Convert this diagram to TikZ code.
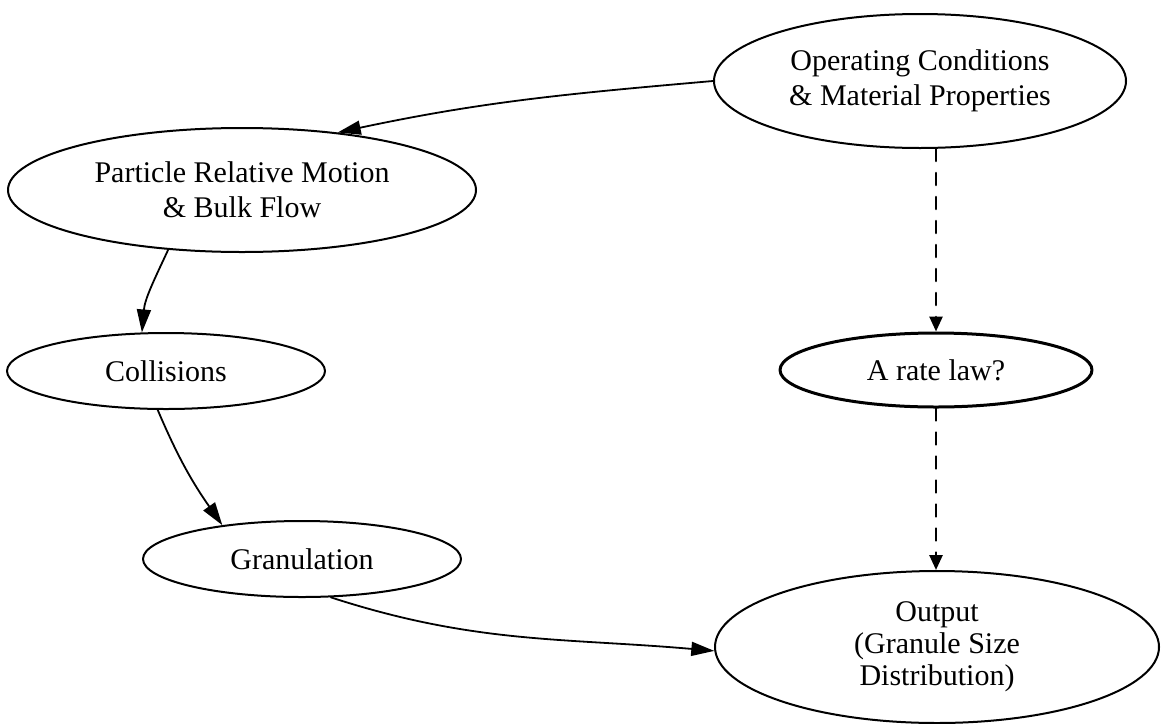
\documentclass[tikz,border=0pt]{standalone}
\usepackage{fontspec}
\setmainfont{Liberation Serif}
\usetikzlibrary{shapes.geometric,arrows.meta}
\begin{document}
\begin{tikzpicture}[x=0.5pt,y=0.5pt,font=\fontsize{15}{17.5}\selectfont,line join=round,line cap=round,>={Triangle[length=11.5pt,width=7pt]},
    blob/.style={draw,ellipse,align=center,inner sep=0pt,line width=1pt},
    flow/.style={->,line width=0.9pt},
    guess/.style={-{Triangle[length=7.5pt,width=6.5pt]},line width=1.3pt,dash pattern=on 6pt off 6pt}]
    \useasboundingbox (0,0) rectangle (1161,-723);
    \node[blob,minimum width=206pt,minimum height=67pt] (op) at (920,-81) {Operating Conditions\\\& Material Properties};
    \node[blob,minimum width=234pt,minimum height=62pt] (pm) at (242,-190) {Particle Relative Motion\\\& Bulk Flow};
    \node[blob,minimum width=159pt,minimum height=38pt] (col) at (166,-371) {Collisions};
    \node[blob,minimum width=156pt,minimum height=37pt,line width=1.5pt] (rate) at (936,-370) {A rate law?};
    \node[blob,minimum width=159pt,minimum height=38pt] (gran) at (302,-559) {Granulation};
    \node[blob,minimum width=222pt,minimum height=76pt,font=\fontsize{15}{16}\selectfont] (out) at (937,-647) {Output\\(Granule Size\\Distribution)};
    \draw[flow] (op.west) to[out=185,in=12] (pm.31);
    \draw[flow] (pm.219) to[out=245,in=85] (col.122);
    \draw[flow] (col.258) to[out=293,in=125] (gran.157);
    \draw[flow] (gran.307) to[out=342,in=175] (out.181);
    \draw[guess] (op.south -| rate.north) -- (rate.north);
    \draw[guess] (rate.south) -- (rate.south |- out.north);
\end{tikzpicture}
\end{document}
